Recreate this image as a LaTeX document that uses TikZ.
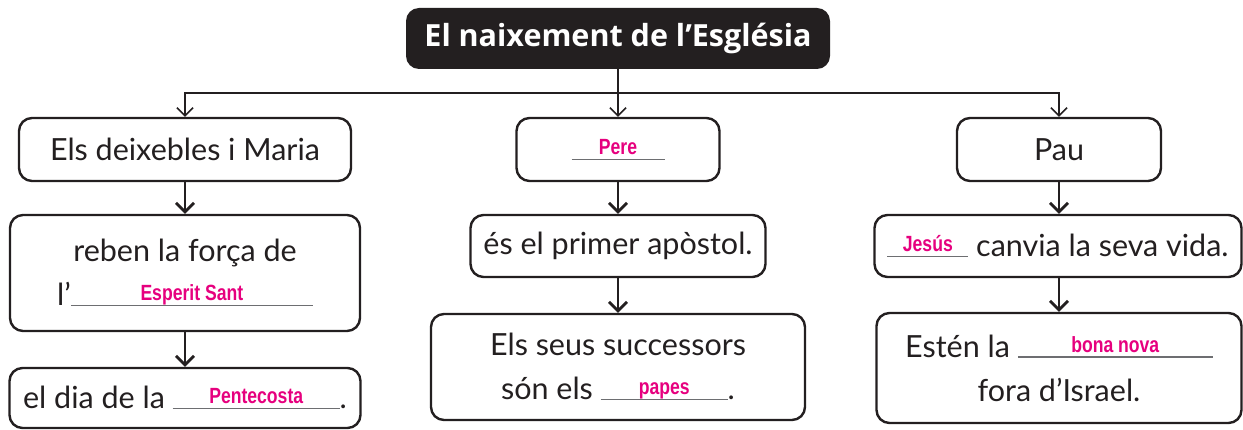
\documentclass[tikz,border=0pt]{standalone}
\usepackage{fontspec}
\setmainfont{Lato}
\newfontfamily\titlefont{Open Sans}
\newfontfamily\answerfont[FakeStretch=0.8]{Liberation Sans}
\usetikzlibrary{arrows.meta}
\definecolor{ink}{HTML}{231F20}
\definecolor{answer}{HTML}{E6007E}
\definecolor{rulegray}{HTML}{6D6E71}
\newcommand{\blank}[2]{\makebox[#1pt][c]{\rlap{\color{rulegray}\rule[-0.5pt]{#1pt}{1.3pt}}\hfill\raisebox{5pt}{\answerfont\bfseries\fontsize{22}{22}\selectfont\color{answer}#2}\hfill}}
\begin{document}
\begin{tikzpicture}[x=1pt,y=-1pt,
    box/.style={draw=ink,line width=2.4pt,rounded corners=13pt,inner sep=0pt,align=center,text=ink,font=\fontsize{30.5}{44}\selectfont},
    title/.style={fill=ink,rounded corners=13pt,text=white,font=\titlefont\bfseries\fontsize{30.5}{36}\selectfont,minimum width=424pt,minimum height=61pt},
    link/.style={draw=ink,line width=1.6pt,-{Straight Barb[length=8pt,width=16pt]}},
    flow/.style={draw=ink,line width=2.8pt,-{Straight Barb[length=9pt,width=18pt]}}]
    \useasboundingbox (0,0) rectangle (1243,430);
    \node[title] (church) at (618,38.5) {El naixement de l’Església};
    \coordinate (fork) at (618,93);
    \node[box,minimum width=332pt,minimum height=63pt] (disciples) at (185,149.5) {Els deixebles i Maria};
    \node[box,minimum width=350pt,minimum height=116pt] (strength) at (185,273) {reben la força de\\l’\blank{242}{Esperit Sant}};
    \node[box,minimum width=351pt,minimum height=60pt] (feast) at (185,398) {el dia de la \blank{167}{Pentecosta}.};
    \node[box,minimum width=203pt,minimum height=63pt] (peter) at (618,149.5) {\blank{93}{Pere}};
    \node[box,minimum width=295pt,minimum height=62pt] (apostle) at (618,246) {és el primer apòstol.};
    \node[box,minimum width=374pt,minimum height=106pt] (popes) at (618,367) {Els seus successors\\són els \blank{127}{papes}.};
    \node[box,minimum width=204pt,minimum height=63pt] (paul) at (1059,149.5) {Pau};
    \node[box,minimum width=367pt,minimum height=62pt] (change) at (1058,246) {\blank{81}{Jesús} canvia la seva vida.};
    \node[box,minimum width=365pt,minimum height=110pt] (news) at (1059,368) {Estén la \blank{195}{bona nova}\\fora d’Israel.};
    \draw[link] (church.south) -- (peter.north);
    \draw[link] (fork) -| (disciples.north);
    \draw[link] (fork) -| (paul.north);
    \draw[flow] (disciples.south) -- (strength.north);
    \draw[flow] (strength.south) -- (feast.north);
    \draw[flow] (peter.south) -- (apostle.north);
    \draw[flow] (apostle.south) -- (popes.north);
    \draw[flow] (paul.south) -- (paul.south |- change.north);
    \draw[flow] (paul.south |- change.south) -- (paul.south |- news.north);
\end{tikzpicture}
\end{document}
